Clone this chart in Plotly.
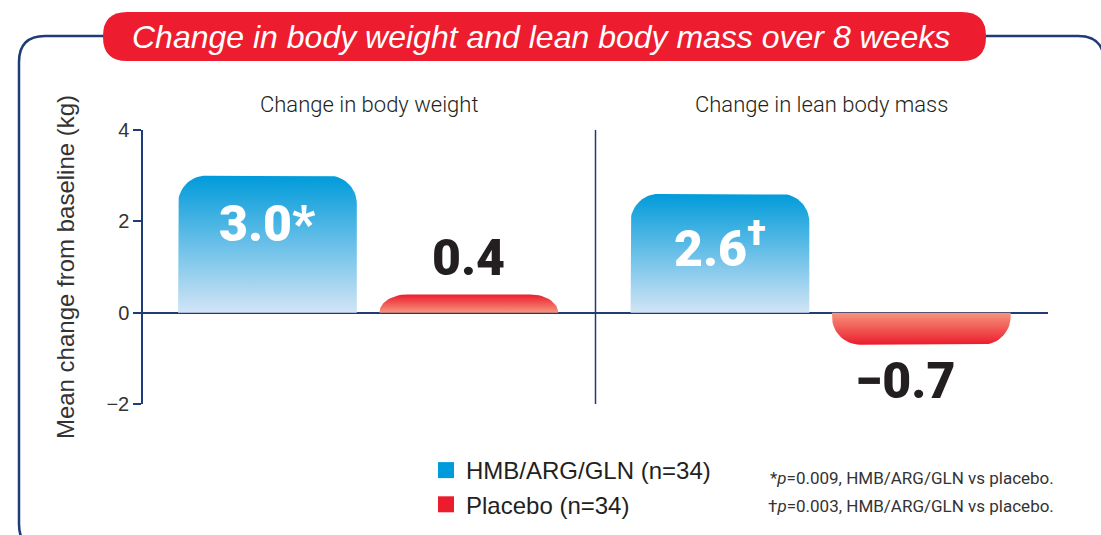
import numpy as np
import plotly.graph_objects as go

# data
panels = ['Change in body weight', 'Change in lean body mass']
series = ['HMB/ARG/GLN (n=34)', 'Placebo (n=34)']
active_vals = [3.0, 2.6]
placebo_vals = [0.4, -0.7]
active_marks = ['*', '<sup>†</sup>']
footnotes = ['*<i>p</i>=0.009, HMB/ARG/GLN vs placebo.',
             '†<i>p</i>=0.003, HMB/ARG/GLN vs placebo.']
y_ticks = [-2, 0, 2, 4]

# pixel frame of the plotting area
L, R, T, B = 143, 1048, 130, 404
W, H = R - L, B - T
X_RANGE = [0, 4]
Y_RANGE = [-2, 4]
X_PER_PX = (X_RANGE[1] - X_RANGE[0]) / W
Y_PER_PX = (Y_RANGE[1] - Y_RANGE[0]) / H

NAVY = '#1f3c78'
BLUE_DARK, BLUE_LIGHT = '#009bda', '#d2e4f6'
RED_DARK, RED_LIGHT = '#ec1c2d', '#f6957c'
COND = 'Roboto, sans-serif'


def px_x(p):
    return (p - L) / W


def px_y(p):
    return (B - p) / H


def rounded_bar(center, width, value, r_px=28):
    # outline of a bar whose far end has rounded corners
    x0, x1 = center - width / 2, center + width / 2
    rx = r_px * X_PER_PX
    ry = min(r_px * Y_PER_PX, abs(value))
    s = np.sign(value)
    t = np.linspace(0, np.pi / 2, 16)
    xs = [x0, x0]
    ys = [0, value - s * ry]
    xs += list(x0 + rx - rx * np.cos(t))
    ys += list(value - s * ry + s * ry * np.sin(t))
    xs += list(x1 - rx + rx * np.sin(t))
    ys += list(value - s * ry + s * ry * np.cos(t))
    xs += [x1, x0]
    ys += [0, 0]
    return xs, ys


def rounded_rect_path(x0, y0, x1, y1, r):
    # pixel box -> paper path with rounded corners
    X = lambda p: f'{px_x(p):.5f}'
    Y = lambda p: f'{px_y(p):.5f}'
    return (f'M {X(x0 + r)},{Y(y0)} L {X(x1 - r)},{Y(y0)} '
            f'Q {X(x1)},{Y(y0)} {X(x1)},{Y(y0 + r)} L {X(x1)},{Y(y1 - r)} '
            f'Q {X(x1)},{Y(y1)} {X(x1 - r)},{Y(y1)} L {X(x0 + r)},{Y(y1)} '
            f'Q {X(x0)},{Y(y1)} {X(x0)},{Y(y1 - r)} L {X(x0)},{Y(y0 + r)} '
            f'Q {X(x0)},{Y(y0)} {X(x0 + r)},{Y(y0)} Z')


fig = go.Figure()

bar_w = 0.79
offsets = [0.55, 1.44]
label_font = dict(family=COND, size=50, weight=900)
annotations = []
for i, panel in enumerate(panels):
    base = 2 * i
    for j, (val, dark, light) in enumerate([(active_vals[i], BLUE_DARK, BLUE_LIGHT),
                                            (placebo_vals[i], RED_DARK, RED_LIGHT)]):
        c = base + offsets[j]
        xs, ys = rounded_bar(c, bar_w, val)
        lo, hi = min(0, val), max(0, val)
        scale = [[0, light], [1, dark]] if val > 0 else [[0, dark], [1, light]]
        fig.add_trace(go.Scatter(
            x=xs, y=ys, mode='lines', fill='toself', line=dict(width=0),
            fillgradient=dict(type='vertical', colorscale=scale, start=lo, stop=hi),
            hoverinfo='skip', showlegend=False))
        num = f'{abs(val):.1f}'
        if j == 0:
            annotations.append(dict(x=c, y=val, text=num + active_marks[i], showarrow=False,
                                    xanchor='center', yanchor='top', yshift=-17,
                                    font=dict(label_font, color='white')))
        elif val >= 0:
            annotations.append(dict(x=c, y=val, text=num, showarrow=False,
                                    xanchor='center', yanchor='bottom', yshift=5,
                                    font=dict(label_font, color='#231f20')))
        else:
            annotations.append(dict(x=c - 0.07, y=val, text='\u2212' + num, showarrow=False,
                                    xanchor='center', yanchor='top', yshift=-5,
                                    font=dict(label_font, color='#231f20')))
    annotations.append(dict(x=base + 1, y=px_y(105), yref='paper', text=panel, showarrow=False,
                            xanchor='center', yanchor='middle',
                            font=dict(family=COND, size=22, color='#231f20', weight=300)))

# legend entries
for name, col in zip(series, [BLUE_DARK, RED_DARK]):
    fig.add_trace(go.Scatter(x=[None], y=[None], mode='markers', name=name,
                             marker=dict(symbol='square', size=16, color=col)))

for k, note in enumerate(footnotes):
    annotations.append(dict(x=px_x(1056), y=px_y(478 + 28 * k), xref='paper', yref='paper',
                            text=note, showarrow=False, xanchor='right', yanchor='middle',
                            font=dict(family=COND, size=17, color='#333333')))

annotations.append(dict(x=px_x(541), y=px_y(37), xref='paper', yref='paper',
                        text='Change in body weight and lean body mass over 8 weeks',
                        showarrow=False, xanchor='center', yanchor='middle',
                        font=dict(family='Liberation Sans, Arial, sans-serif', size=32,
                                  color='white', style='italic')))

shapes = [
    dict(type='path', xref='paper', yref='paper', layer='below',
         path=rounded_rect_path(19, 36, 1104, 550, 26), line=dict(color=NAVY, width=2.5)),
    dict(type='path', xref='paper', yref='paper', layer='above',
         path=rounded_rect_path(103, 12, 986, 61, 24), fillcolor='#ed1c2e', line=dict(width=0)),
    dict(type='line', x0=2, x1=2, y0=Y_RANGE[0], y1=Y_RANGE[1], xref='x', yref='y',
         line=dict(color=NAVY, width=1.5), layer='below'),
]

fig.update_layout(
    width=1101, height=535,
    margin=dict(l=L, r=1101 - R, t=T, b=535 - B, autoexpand=False),
    paper_bgcolor='white', plot_bgcolor='white',
    font=dict(family='Liberation Sans, Arial, sans-serif', color='#333333'),
    annotations=annotations, shapes=shapes,
    legend=dict(x=px_x(426), y=px_y(448), xanchor='left', yanchor='top',
                font=dict(size=24, color='#231f20'), bgcolor='rgba(0,0,0,0)',
                itemclick=False, tracegroupgap=0),
)
fig.update_xaxes(range=X_RANGE, visible=False, fixedrange=True)
fig.update_yaxes(range=Y_RANGE, tickvals=y_ticks, ticktext=['\u22122', '0', '2', '4'],
                 showgrid=False, zeroline=True, zerolinecolor=NAVY, zerolinewidth=1.5,
                 showline=True, linecolor=NAVY, linewidth=1.5,
                 ticks='outside', ticklen=8, tickcolor=NAVY, tickwidth=1.5,
                 tickfont=dict(size=20, color='#333333'),
                 title=dict(text='Mean change from baseline (kg)', standoff=25,
                            font=dict(size=24, color='#333333')),
                 automargin=False, fixedrange=True)

fig.write_html('out.html', config={'displayModeBar': False},
               post_script="document.body.style.margin='0';")
